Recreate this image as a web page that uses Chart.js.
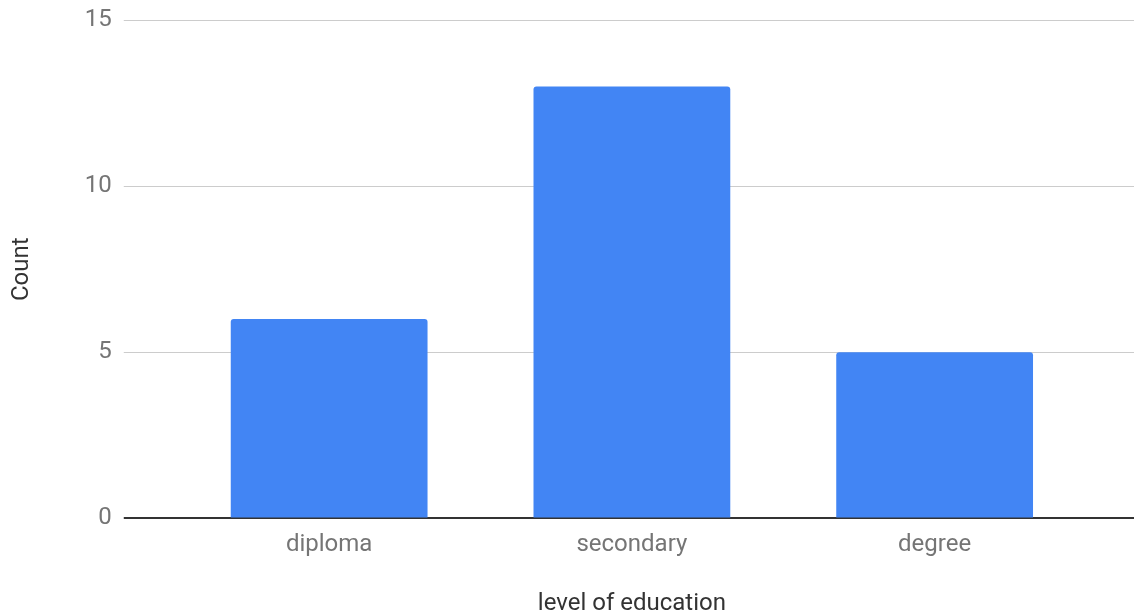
<!DOCTYPE html>
<html>
<head>
<meta charset="utf-8">
<script src="https://cdn.jsdelivr.net/npm/chart.js@4"></script>
<style>
  body { margin: 0; background: #fff; }
  #wrap { width: 1134px; height: 615px; }
</style>
</head>
<body>
<div id="wrap"><canvas id="edu-chart"></canvas></div>
<script>
const categories = ["diploma", "secondary", "degree"];
const counts = [6, 13, 5];
const yTicks = [0, 5, 10, 15];

const tickFont = { family: "Roboto", size: 24 };
const gridGrey = "#cccccc";
const baseDark = "#333333";

// zero line is dark, the rest light grey
const lineColor = (ctx) => (ctx.tick && ctx.tick.value === 0 ? baseDark : gridGrey);
const lineWidth = (ctx) => (ctx.tick && ctx.tick.value === 0 ? 2 : 1);

const eduChart = new Chart("edu-chart", {
  type: "bar",
  data: {
    labels: categories,
    datasets: [
      {
        data: counts,
        backgroundColor: "#4285F4",
        borderRadius: 3,
        borderSkipped: "start",
        barPercentage: 0.65,
        categoryPercentage: 1,
      },
    ],
  },
  options: {
    responsive: true,
    maintainAspectRatio: false,
    animation: false,
    layout: { padding: { top: 0, left: 8, right: 0, bottom: -3 } },
    plugins: { legend: { display: false }, tooltip: { enabled: false } },
    scales: {
      x: {
        grid: { display: false },
        border: { display: true, color: baseDark, width: 2 },
        ticks: { font: tickFont, color: "#757575", padding: 4 },
        title: {
          display: true,
          text: "level of education",
          font: { family: "Roboto", size: 24 },
          color: "#333333",
          padding: { top: 26, bottom: 0 },
        },
      },
      y: {
        min: 0,
        max: 15,
        afterBuildTicks: (axis) => {
          axis.ticks = yTicks.map((v) => ({ value: v }));
        },
        // keep the top gridline close to the canvas edge
        afterFit: (axis) => {
          axis.paddingTop = 20;
        },
        border: { display: false },
        grid: {
          color: lineColor,
          tickColor: lineColor,
          lineWidth: lineWidth,
          tickLength: 54,
        },
        ticks: { font: tickFont, color: "#757575", padding: 12 },
        title: {
          display: true,
          text: "Count",
          font: { family: "Roboto", size: 24 },
          color: "#333333",
          padding: { top: 0, bottom: 36 },
        },
      },
      // right-hand stub so gridlines run to the edge
      yRight: {
        position: "right",
        min: 0,
        max: 15,
        afterBuildTicks: (axis) => {
          axis.ticks = yTicks.map((v) => ({ value: v }));
        },
        border: { display: false },
        grid: {
          drawOnChartArea: false,
          color: lineColor,
          tickColor: lineColor,
          lineWidth: lineWidth,
          tickLength: 48,
        },
        ticks: { display: false },
      },
    },
  },
});
</script>
</body>
</html>
